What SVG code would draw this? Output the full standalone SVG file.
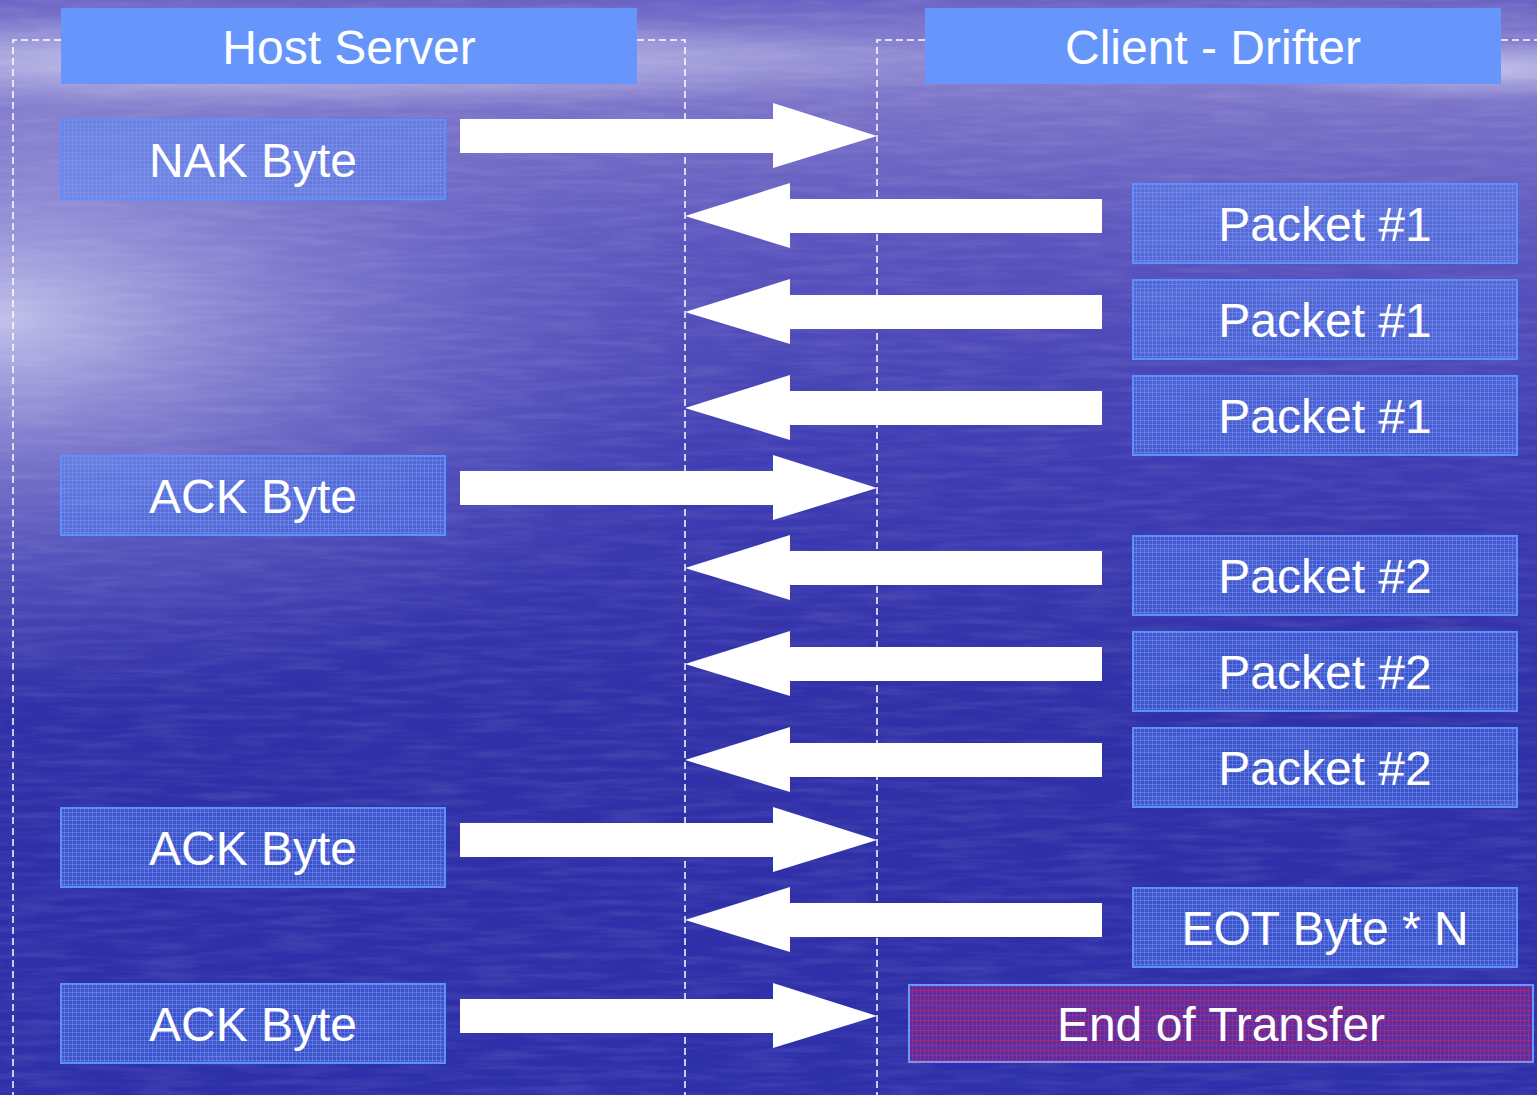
<svg xmlns="http://www.w3.org/2000/svg" width="1537" height="1095" viewBox="0 0 1537 1095">
  <style>
    .hdr { fill: #6696fc; }
    .hdr-text { font-family: "Liberation Sans", Arial, sans-serif; font-size: 48px; fill: #ffffff; text-anchor: middle; }
    .box { fill: url(#gridBlue); stroke: #5f8ffa; stroke-width: 2; }
    .box-red { fill: url(#gridRed); stroke: #6a98fc; stroke-width: 2; }
    .label { font-family: "Liberation Sans", Arial, sans-serif; font-size: 48px; fill: #ffffff; text-anchor: middle; }
    .lane { fill: none; stroke: #ffffff; stroke-width: 1.5; stroke-dasharray: 7 4; }
    .arrow { fill: #ffffff; }
  </style>
  <defs>
    <!-- sea backdrop -->
    <linearGradient id="sea" x1="0" y1="0" x2="0" y2="1">
      <stop offset="0" stop-color="#6a62c4"/>
      <stop offset="0.05" stop-color="#8c86d0"/>
      <stop offset="0.1" stop-color="#7a72c8"/>
      <stop offset="0.22" stop-color="#5a54be"/>
      <stop offset="0.42" stop-color="#3e3cb2"/>
      <stop offset="0.65" stop-color="#3030a8"/>
      <stop offset="1" stop-color="#2e30aa"/>
    </linearGradient>
    <radialGradient id="glowLeft" cx="0" cy="320" r="780" gradientUnits="userSpaceOnUse" gradientTransform="translate(0 320) scale(1 0.5) translate(0 -320)">
      <stop offset="0" stop-color="#d4d4f2" stop-opacity="0.85"/>
      <stop offset="0.3" stop-color="#aeaae2" stop-opacity="0.6"/>
      <stop offset="0.65" stop-color="#8a86d4" stop-opacity="0.3"/>
      <stop offset="1" stop-color="#7070c8" stop-opacity="0"/>
    </radialGradient>
    <radialGradient id="glowBand" cx="300" cy="62" r="700" gradientUnits="userSpaceOnUse" gradientTransform="translate(300 62) scale(1 0.07) translate(-300 -62)">
      <stop offset="0" stop-color="#e0e0f6" stop-opacity="0.8"/>
      <stop offset="1" stop-color="#c0c0ec" stop-opacity="0"/>
    </radialGradient>
    <radialGradient id="glowRight" cx="1480" cy="70" r="260" gradientUnits="userSpaceOnUse" gradientTransform="translate(1480 70) scale(1 0.12) translate(-1480 -70)">
      <stop offset="0" stop-color="#d8d8f2" stop-opacity="0.75"/>
      <stop offset="1" stop-color="#c0c0ec" stop-opacity="0"/>
    </radialGradient>
    <filter id="ripples" x="0" y="0" width="100%" height="100%">
      <feTurbulence type="fractalNoise" baseFrequency="0.015 0.15" numOctaves="3" seed="7"/>
      <feColorMatrix type="matrix" values="0 0 0 0 1  0 0 0 0 1  0 0 0 0 1  0 0 0 0.18 -0.07"/>
    </filter>
    <!-- grid fills for the boxes -->
    <pattern id="gridBlue" width="4" height="4" patternUnits="userSpaceOnUse">
      <rect width="4" height="4" fill="#5080f2" fill-opacity="0.42"/>
      <path d="M0 0.5H4M0.5 0V4" stroke="#7aa2ff" stroke-opacity="0.4" stroke-width="1"/>
    </pattern>
    <pattern id="gridRed" width="4" height="10" patternUnits="userSpaceOnUse">
      <rect width="4" height="10" fill="#6a2a98" fill-opacity="0.85"/>
      <path d="M0 5.5H4M0.5 0V10" stroke="#8a3aa8" stroke-opacity="0.6" stroke-width="1"/>
      <path d="M0 0.5H4" stroke="#d01e50" stroke-opacity="0.75" stroke-width="1"/>
    </pattern>
    <!-- block arrows -->
    <polygon id="arrowRight" points="460,-17 773,-17 773,-33 877,0 773,32 773,17 460,17"/>
    <polygon id="arrowLeft" points="1102,-17 790,-17 790,-33 685,0 790,32 790,17 1102,17"/>
  </defs>

  <!-- backdrop -->
  <rect width="1537" height="1095" fill="url(#sea)"/>
  <rect width="1537" height="1095" fill="url(#glowLeft)"/>
  <rect width="1537" height="1095" fill="url(#glowBand)"/>
  <rect width="1537" height="1095" fill="url(#glowRight)"/>
  <rect width="1537" height="1095" filter="url(#ripples)"/>

  <!-- swim lanes -->
  <g id="lanes">
    <path class="lane" d="M61 40H13V1095M637 40H685V1095"/>
    <path class="lane" d="M925 40H877V1095M1501 40H1537"/>
  </g>

  <!-- lane headers -->
  <g id="host-server">
    <rect class="hdr" x="61" y="8" width="576" height="76"/>
    <text class="hdr-text" x="349" y="64">Host Server</text>
  </g>
  <g id="client-drifter">
    <rect class="hdr" x="925" y="8" width="576" height="76"/>
    <text class="hdr-text" x="1213" y="64">Client - Drifter</text>
  </g>

  <!-- host side messages -->
  <g id="nak-byte">
    <rect class="box" x="61" y="120" width="384" height="79"/>
    <text class="label" x="253" y="177">NAK Byte</text>
  </g>
  <g id="ack-byte-1">
    <rect class="box" x="61" y="456" width="384" height="79"/>
    <text class="label" x="253" y="513">ACK Byte</text>
  </g>
  <g id="ack-byte-2">
    <rect class="box" x="61" y="808" width="384" height="79"/>
    <text class="label" x="253" y="865">ACK Byte</text>
  </g>
  <g id="ack-byte-3">
    <rect class="box" x="61" y="984" width="384" height="79"/>
    <text class="label" x="253" y="1041">ACK Byte</text>
  </g>

  <!-- client side messages -->
  <g id="packet-1a">
    <rect class="box" x="1133" y="184" width="384" height="79"/>
    <text class="label" x="1325" y="241">Packet #1</text>
  </g>
  <g id="packet-1b">
    <rect class="box" x="1133" y="280" width="384" height="79"/>
    <text class="label" x="1325" y="337">Packet #1</text>
  </g>
  <g id="packet-1c">
    <rect class="box" x="1133" y="376" width="384" height="79"/>
    <text class="label" x="1325" y="433">Packet #1</text>
  </g>
  <g id="packet-2a">
    <rect class="box" x="1133" y="536" width="384" height="79"/>
    <text class="label" x="1325" y="593">Packet #2</text>
  </g>
  <g id="packet-2b">
    <rect class="box" x="1133" y="632" width="384" height="79"/>
    <text class="label" x="1325" y="689">Packet #2</text>
  </g>
  <g id="packet-2c">
    <rect class="box" x="1133" y="728" width="384" height="79"/>
    <text class="label" x="1325" y="785">Packet #2</text>
  </g>
  <g id="eot-byte">
    <rect class="box" x="1133" y="888" width="384" height="79"/>
    <text class="label" x="1325" y="945">EOT Byte * N</text>
  </g>
  <g id="end-of-transfer">
    <rect class="box-red" x="909" y="985" width="624" height="77"/>
    <text class="label" x="1221" y="1041">End of Transfer</text>
  </g>

  <!-- message flow -->
  <g id="connectors" class="arrow">
    <use href="#arrowRight" y="136"/>
    <use href="#arrowLeft" y="216"/>
    <use href="#arrowLeft" y="312"/>
    <use href="#arrowLeft" y="408"/>
    <use href="#arrowRight" y="488"/>
    <use href="#arrowLeft" y="568"/>
    <use href="#arrowLeft" y="664"/>
    <use href="#arrowLeft" y="760"/>
    <use href="#arrowRight" y="840"/>
    <use href="#arrowLeft" y="920"/>
    <use href="#arrowRight" y="1016"/>
  </g>
</svg>
